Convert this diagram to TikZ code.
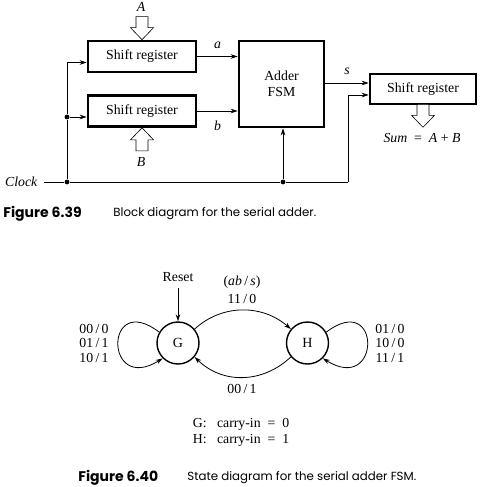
\documentclass[tikz,border=0pt]{standalone}
\usepackage{fontspec}
\setmainfont{Liberation Serif}
\newfontfamily\capfont{Poppins}
\usetikzlibrary{arrows.meta,positioning}

\begin{document}
\begin{tikzpicture}[x=1pt, y=-1pt, line width=.8pt, >={Stealth[length=7pt, width=4.5pt]},
	reg/.style={draw, line width=2.6pt, minimum width=108pt, minimum height=31pt, font=\fontsize{13.8}{15.5}\selectfont},
	state/.style={draw, circle, line width=1.4pt, minimum size=42pt, font=\fontsize{14}{16}\selectfont},
	lbl/.style={font=\fontsize{13.8}{14.5}\selectfont, align=center},
	ilbl/.style={font=\fontsize{13.8}{15.5}\selectfont\itshape},
	dot/.style={circle, fill, inner sep=1.7pt},
	fat/.style={line width=.6pt, fill=white},
	figno/.style={anchor=west, inner sep=0pt, font=\capfont\bfseries\fontsize{14}{16}\selectfont},
	figcap/.style={anchor=west, inner sep=0pt, font=\capfont\fontsize{11.8}{14}\selectfont}]

	% \fatarrow#tip#angle
	\def\fatarrow#1#2{
		\draw[fat, shift={(#1)}, rotate=#2] (0, 0) -- (-11.5, -12) -- (-6, -12) -- (-6, -23) -- (6, -23) -- (6, -12) -- (11.5, -12) -- cycle;
	}

	\useasboundingbox (0, 0) rectangle (483, 487);

	% blocks
	\node[reg] (regA) at (142, 56.5) {Shift register};
	\node[reg] (regB) at (142, 111) {Shift register};
	\node[reg, minimum width=85pt, minimum height=86pt, align=center] (adder) at (281.5, 84) {Adder\\FSM};
	\node[reg, minimum width=106pt, minimum height=30pt] (regS) at (423, 89) {Shift register};

	% data
	\draw[->] (regA.east) -- (adder.west |- regA.east) node[midway, above=4pt, ilbl] (la) {a};
	\draw[->] (regB.east) -- (adder.west |- regB.east) node[midway, below=6pt, ilbl] (lb) {b};
	\coordinate (sIn) at ([yshift=6pt]regS.west);
	\draw[->] (adder.east |- sIn) -- (sIn) node[midway, above=5pt, ilbl] (ls) {s};

	% inputs and sum
	\fatarrow{regA.north}{0}
	\node[ilbl] (labA) at (141, 7) {A};
	\fatarrow{regB.south}{180}
	\node[ilbl] (labB) at (141, 162) {B};
	\coordinate (sumtip) at ([yshift=-22pt]regS.south);
	\fatarrow{sumtip}{0}
	\node[ilbl] (sum) at (422, 138) {Sum\ \ \upshape=\ \ \itshape A\ \upshape+\ \itshape B};

	% clock
	\coordinate (clk) at (44, 182);
	\node[dot] (j1) at (67, 182) {};
	\node[dot] (j2) at (67, 117) {};
	\node[dot] (j3) at (283, 182) {};
	\coordinate (cR) at (348, 182);
	\node[ilbl, left=3pt of clk] (clock) {Clock};
	\draw (clk) -- (j1) -- (j3) -- (cR);
	\draw (j1) -- (j2);
	\draw[->] (j2) |- ([yshift=-6pt]regA.west);
	\draw[->] (j2) -- ([yshift=-6pt]regB.west);
	\draw[->] (j3) -- (j3 |- adder.south);
	\draw[->] (cR) |- ([yshift=-6pt]regS.west);

	\node[figno] (fig1) at (3, 214) {Figure 6.39};
	\node[figcap] (cap1) at (113, 214) {Block diagram for the serial adder.};

	% state diagram
	\node[state] (G) at (178, 343) {G};
	\node[state] (H) at (307.5, 343) {H};
	\node[lbl] (reset) at (178, 277) {Reset};
	\draw[->] (reset.south) ++(0, 3) coordinate (rs) (rs) -- (G);
	\draw[->] (G.40) .. controls (222, 304) and (262, 304) .. (H.140);
	\draw[->] (H.220) .. controls (262, 384) and (222, 384) .. (G.-40);
	\draw[->] (G.150) .. controls (104, 290) and (104, 395) .. (G.225);
	\draw[->] (H.30) .. controls (381.5, 290) and (381.5, 395) .. (H.-45);

	\node[lbl] (loopG) at (94, 343) {00\,/\,0\\01\,/\,1\\10\,/\,1};
	\node[lbl] (loopH) at (390, 343) {01\,/\,0\\10\,/\,0\\11\,/\,1};
	\node[lbl] (abs) at (242, 282) {(\textit{ab}\,/\,\textit{s})};
	\node[lbl] (GH) at (242, 299) {11\,/\,0};
	\node[lbl] (HG) at (242, 389) {00\,/\,1};
	\node[lbl] (legend) at (241, 432) {%
		\renewcommand{\arraystretch}{1.1}%
		\begin{tabular}{@{}l@{\ \ \ }l@{}}G: & carry-in\ \ =\ \ 0\\ H: & carry-in\ \ =\ \ 1\end{tabular}};

	\node[figno] (fig2) at (78, 478) {Figure 6.40};
	\node[figcap] (cap2) at (187, 478) {State diagram for the serial adder FSM.};
\end{tikzpicture}
\end{document}
